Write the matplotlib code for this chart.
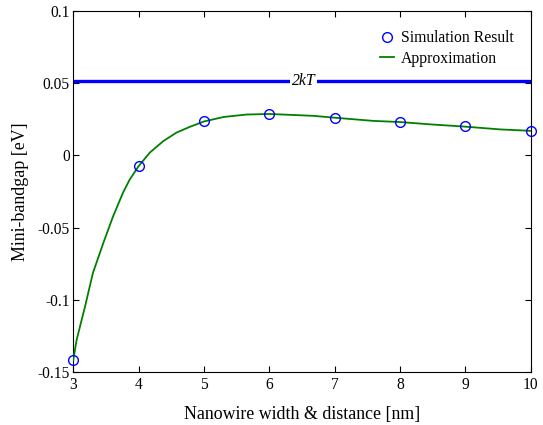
import matplotlib
matplotlib.use("Agg")
import matplotlib.pyplot as plt
from matplotlib.ticker import FuncFormatter

plt.rcParams['font.family'] = ['Liberation Serif', 'DejaVu Serif']

# Simulation result
sim_x = [3, 4, 5, 6, 7, 8, 9, 10]
sim_y = [-0.1417, -0.0074, 0.0237, 0.0285, 0.0262, 0.0232, 0.0201, 0.0169]

# Approximation curve
approx_x = [3.0, 3.05, 3.18, 3.30, 3.46, 3.61, 3.76, 3.86, 4.0, 4.17, 4.38, 4.58,
            4.79, 5.0, 5.3, 5.65, 6.0, 6.67, 7.0, 7.59, 8.0, 8.46, 9.0, 9.53, 10.0]
approx_y = [-0.1417, -0.128, -0.1046, -0.0815, -0.0606, -0.0421, -0.0259, -0.017,
            -0.0074, 0.0019, 0.0100, 0.0158, 0.0199, 0.0235, 0.0266, 0.0283,
            0.0287, 0.0274, 0.0261, 0.0239, 0.0231, 0.0215, 0.0199, 0.0180, 0.0170]

kT2 = 0.0517
xlim = (3, 10)
ylim = (-0.15, 0.1)
yticks = [-0.15, -0.1, -0.05, 0, 0.05, 0.1]
xticks = [3, 4, 5, 6, 7, 8, 9, 10]

fig = plt.figure(figsize=(5.43, 4.25), dpi=100)
ax = fig.add_axes([0.135, 0.125, 0.8425, 0.849])

ax.plot(xlim, [kT2, kT2], color='#0000ff', lw=2.4, zorder=2)
ax.text(6.52, kT2, '2kT', style='italic', fontsize=11.3, ha='center', va='center',
        bbox=dict(facecolor='white', edgecolor='none', pad=1.0), zorder=3)
ax.plot(sim_x, sim_y, 'o', mfc='none', mec='#0000ff', ms=7, mew=1.0,
        label='Simulation Result', zorder=4, clip_on=False)
ax.plot(approx_x, approx_y, '-', color='#008000', lw=1.3, label='Approximation', zorder=3)

ax.set_xlim(*xlim)
ax.set_ylim(*ylim)
ax.set_xticks(xticks)
ax.set_yticks(yticks)
ax.yaxis.set_major_formatter(FuncFormatter(lambda v, p: ('%g' % v).replace('\u2212', '-')))
ax.tick_params(direction='in', top=True, right=True, labelsize=11.2, length=4)
ax.tick_params(axis='y', pad=2.5)
ax.tick_params(axis='x', pad=4)
ax.set_xlabel('Nanowire width & distance [nm]', fontsize=12.9, labelpad=9)
ax.set_ylabel('Mini-bandgap [eV]', fontsize=12.9, labelpad=6)

leg = ax.legend(loc='upper right', bbox_to_anchor=(0.963, 0.947), frameon=False,
                fontsize=11.3, handlelength=0.9, handletextpad=0.45,
                borderpad=0, borderaxespad=0, labelspacing=0.3)

fig.savefig('out.png', dpi=100)
